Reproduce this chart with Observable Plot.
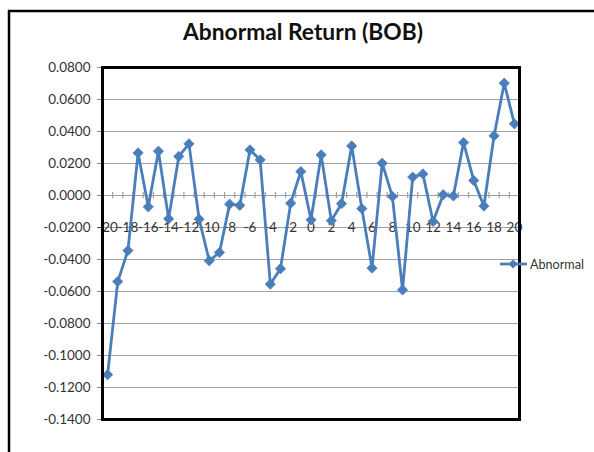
<!DOCTYPE html>
<html>
<head>
<meta charset="utf-8">
<script src="https://cdn.jsdelivr.net/npm/d3@7"></script>
<script src="https://cdn.jsdelivr.net/npm/@observablehq/plot@0.6"></script>
<style>
  html, body { margin: 0; padding: 0; background: #fff; }
  #chart { position: relative; width: 594px; height: 452px; overflow: hidden; }
  #chart > svg { position: absolute; left: 0; top: 0; }
</style>
</head>
<body>
<div id="chart"></div>
<script>
// Event window (days relative to the announcement) and abnormal returns
const days = [-20, -19, -18, -17, -16, -15, -14, -13, -12, -11, -10, -9, -8, -7, -6, -5, -4, -3, -2, -1,
  0, 1, 2, 3, 4, 5, 6, 7, 8, 9, 10, 11, 12, 13, 14, 15, 16, 17, 18, 19, 20];
const abnormal = [-0.1120, -0.0538, -0.0344, 0.0266, -0.0071, 0.0277, -0.0146, 0.0244, 0.0323, -0.0148,
  -0.0408, -0.0356, -0.0054, -0.0062, 0.0285, 0.0223, -0.0554, -0.0458, -0.0048, 0.0150,
  -0.0152, 0.0254, -0.0157, -0.0051, 0.0310, -0.0082, -0.0454, 0.0202, -0.0006, -0.0590,
  0.0115, 0.0135, -0.0162, 0.0005, -0.0003, 0.0331, 0.0094, -0.0066, 0.0373, 0.0702, 0.0448];
const xTickLabels = [-20, -18, -16, -14, -12, -10, -8, -6, -4, -2, 0, 2, 4, 6, 8, 10, 12, 14, 16, 18, 20];
const yTicks = [-0.14, -0.12, -0.10, -0.08, -0.06, -0.04, -0.02, 0, 0.02, 0.04, 0.06, 0.08];
const seriesName = "Abnormal";
const title = "Abnormal Return (BOB)";

const rows = days.map((d, i) => ({day: d, value: abnormal[i]}));
// category boundaries for the small tick marks on the zero line
const boundaries = d3.range(days[0] - 0.5, days[days.length - 1] + 1, 1);

const blue = "#4a7ebb";
const fontFamily = 'Lato, "Open Sans", sans-serif';

const chart = Plot.plot({
  width: 594,
  height: 452,
  marginLeft: 102,
  marginRight: 75,
  marginTop: 67,
  marginBottom: 33,
  style: {fontFamily, fontSize: "13px", color: "#333", background: "transparent"},
  x: {type: "linear", domain: [days[0] - 0.5, days[days.length - 1] + 0.5], axis: null},
  y: {domain: [-0.14, 0.08], ticks: yTicks, label: null},
  marks: [
    Plot.gridY(yTicks, {stroke: "#a0a0a0", strokeOpacity: 1, strokeWidth: 1.2}),
    Plot.axisY(yTicks, {
      tickSize: 5, tickPadding: 7, label: null, stroke: "#888",
      tickFormat: d => d.toFixed(4), fill: "#333", fontSize: 13.5
    }),
    Plot.ruleX(boundaries, {x: d => d, y1: 0, y2: 0, insetTop: -3, insetBottom: -3, stroke: "#a0a0a0", strokeWidth: 1.2}),
    Plot.text(xTickLabels, {x: d => d, y: 0, dy: 32, text: d => String(d), fill: "#333", fontSize: 13.5}),
    Plot.line(rows, {x: "day", y: "value", stroke: blue, strokeWidth: 2.8, strokeLinejoin: "round"}),
    Plot.dot(rows, {x: "day", y: "value", symbol: "diamond2", r: 4.6, fill: blue, stroke: blue, strokeWidth: 0.8}),
    Plot.frame({stroke: "#000", strokeWidth: 3})
  ]
});

const root = document.getElementById("chart");
root.appendChild(chart);

// title, legend and outer chart border drawn on top
const over = d3.create("svg").attr("width", 594).attr("height", 452)
  .style("position", "absolute").style("left", 0).style("top", 0)
  .style("font-family", fontFamily);
over.append("line").attr("x1", 8).attr("x2", 594).attr("y1", 11).attr("y2", 11)
  .attr("stroke", "#000").attr("stroke-width", 2.5);
over.append("line").attr("x1", 9).attr("x2", 9).attr("y1", 10).attr("y2", 452)
  .attr("stroke", "#000").attr("stroke-width", 2.5);
over.append("text").attr("x", 303).attr("y", 40).attr("text-anchor", "middle")
  .attr("font-size", 23).attr("font-weight", "bold").attr("fill", "#111")
  .attr("textLength", 240).attr("lengthAdjust", "spacingAndGlyphs").text(title);
const lg = over.append("g").attr("transform", "translate(0,264)");
lg.append("line").attr("x1", 500).attr("x2", 527).attr("y1", 0).attr("y2", 0)
  .attr("stroke", blue).attr("stroke-width", 2.8);
lg.append("path").attr("d", "M513,-4.6L517.6,0L513,4.6L508.4,0Z").attr("fill", blue);
lg.append("text").attr("x", 530).attr("y", 0).attr("dy", "0.35em")
  .attr("font-size", 14).attr("fill", "#333")
  .attr("textLength", 54).attr("lengthAdjust", "spacingAndGlyphs").text(seriesName);
root.appendChild(over.node());
</script>
</body>
</html>
